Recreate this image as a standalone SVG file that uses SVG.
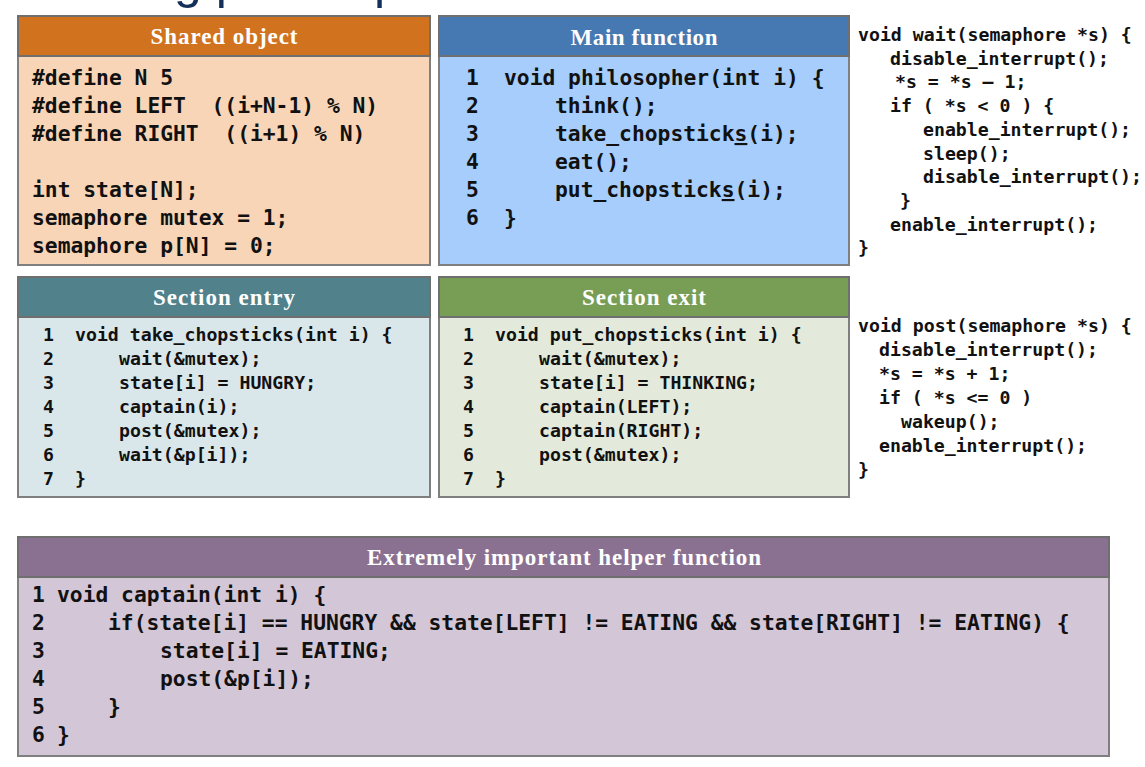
<svg xmlns="http://www.w3.org/2000/svg" width="1145" height="767" viewBox="0 0 1145 767">
<style>
.box{stroke:#7f7f7f;stroke-width:2}
.hdr{stroke:#6f6f6f;stroke-width:2}
.ttl{font-family:"Liberation Serif",serif;font-weight:bold;font-size:23px;fill:#ffffff;text-anchor:middle}
.c{font-family:"DejaVu Sans Mono","Liberation Mono",monospace;font-weight:bold;font-size:21.3px;fill:#111111}
.s{font-family:"DejaVu Sans Mono","Liberation Mono",monospace;font-weight:bold;font-size:18.2px;fill:#111111}
.u{text-decoration:underline}
</style>
<rect width="1145" height="767" fill="#ffffff"/>
<text x="60" y="-2" font-family="Liberation Sans,sans-serif" font-size="50" fill="#14305a">Dining philosophers</text>

<g id="shared-object">
<rect class="box" x="18" y="16" width="412" height="249" fill="#f8d5b7"/>
<rect class="hdr" x="18" y="16" width="412" height="40" fill="#d1721f"/>
<text class="ttl" x="224" y="44" textLength="147">Shared object</text>
<text class="c" x="32" y="85" xml:space="preserve">#define N 5</text>
<text class="c" x="32" y="113" xml:space="preserve">#define LEFT  ((i+N-1) % N)</text>
<text class="c" x="32" y="141" xml:space="preserve">#define RIGHT  ((i+1) % N)</text>
<text class="c" x="32" y="197" xml:space="preserve">int state[N];</text>
<text class="c" x="32" y="225" xml:space="preserve">semaphore mutex = 1;</text>
<text class="c" x="32" y="253" xml:space="preserve">semaphore p[N] = 0;</text>
</g>

<g id="main-function">
<rect class="box" x="439" y="16" width="410" height="249" fill="#a6cdfb"/>
<rect class="hdr" x="439" y="16" width="410" height="40" fill="#4678b1"/>
<text class="ttl" x="644" y="45" textLength="147">Main function</text>
<text class="c" x="466" y="85">1</text>
<text class="c" x="466" y="113">2</text>
<text class="c" x="466" y="141">3</text>
<text class="c" x="466" y="169">4</text>
<text class="c" x="466" y="197">5</text>
<text class="c" x="466" y="225">6</text>
<text class="c" x="504" y="85" xml:space="preserve">void philosopher(int i) {</text>
<text class="c" x="555" y="113">think();</text>
<text class="c" x="555" y="141">take_chopstick<tspan class="u">s</tspan>(i);</text>
<text class="c" x="555" y="169">eat();</text>
<text class="c" x="555" y="197">put_chopstick<tspan class="u">s</tspan>(i);</text>
<text class="c" x="504" y="225">}</text>
</g>

<g id="wait-code">
<text class="s" x="858" y="41" xml:space="preserve">void wait(semaphore *s) {</text>
<text class="s" x="890" y="64.7">disable_interrupt();</text>
<text class="s" x="895" y="88.4" xml:space="preserve">*s = *s – 1;</text>
<text class="s" x="890" y="112.1" xml:space="preserve">if ( *s &lt; 0 ) {</text>
<text class="s" x="923" y="135.8">enable_interrupt();</text>
<text class="s" x="923" y="159.5">sleep();</text>
<text class="s" x="923" y="183.2">disable_interrupt();</text>
<text class="s" x="900" y="206.9">}</text>
<text class="s" x="890" y="230.6">enable_interrupt();</text>
<text class="s" x="858" y="254.3">}</text>
</g>

<g id="section-entry">
<rect class="box" x="18" y="277" width="412" height="220" fill="#dae7ea"/>
<rect class="hdr" x="18" y="277" width="412" height="40" fill="#51818a"/>
<text class="ttl" x="224" y="305" textLength="142">Section entry</text>
<text class="s" x="43" y="341">1</text>
<text class="s" x="43" y="365">2</text>
<text class="s" x="43" y="389">3</text>
<text class="s" x="43" y="413">4</text>
<text class="s" x="43" y="437">5</text>
<text class="s" x="43" y="461">6</text>
<text class="s" x="43" y="485">7</text>
<text class="s" x="75" y="341" xml:space="preserve">void take_chopsticks(int i) {</text>
<text class="s" x="119" y="365">wait(&amp;mutex);</text>
<text class="s" x="119" y="389" xml:space="preserve">state[i] = HUNGRY;</text>
<text class="s" x="119" y="413">captain(i);</text>
<text class="s" x="119" y="437">post(&amp;mutex);</text>
<text class="s" x="119" y="461">wait(&amp;p[i]);</text>
<text class="s" x="75" y="485">}</text>
</g>

<g id="section-exit">
<rect class="box" x="439" y="277" width="410" height="220" fill="#e4eadb"/>
<rect class="hdr" x="439" y="277" width="410" height="40" fill="#789e55"/>
<text class="ttl" x="644" y="305" textLength="124">Section exit</text>
<text class="s" x="463" y="341">1</text>
<text class="s" x="463" y="365">2</text>
<text class="s" x="463" y="389">3</text>
<text class="s" x="463" y="413">4</text>
<text class="s" x="463" y="437">5</text>
<text class="s" x="463" y="461">6</text>
<text class="s" x="463" y="485">7</text>
<text class="s" x="495" y="341" xml:space="preserve">void put_chopsticks(int i) {</text>
<text class="s" x="539" y="365">wait(&amp;mutex);</text>
<text class="s" x="539" y="389" xml:space="preserve">state[i] = THINKING;</text>
<text class="s" x="539" y="413">captain(LEFT);</text>
<text class="s" x="539" y="437">captain(RIGHT);</text>
<text class="s" x="539" y="461">post(&amp;mutex);</text>
<text class="s" x="495" y="485">}</text>
</g>

<g id="post-code">
<text class="s" x="858" y="332" xml:space="preserve">void post(semaphore *s) {</text>
<text class="s" x="879" y="356">disable_interrupt();</text>
<text class="s" x="879" y="380" xml:space="preserve">*s = *s + 1;</text>
<text class="s" x="879" y="404" xml:space="preserve">if ( *s &lt;= 0 )</text>
<text class="s" x="901" y="428">wakeup();</text>
<text class="s" x="879" y="452">enable_interrupt();</text>
<text class="s" x="858" y="476">}</text>
</g>

<g id="helper-function">
<rect class="box" x="18" y="537" width="1091" height="219" fill="#d3c6d6"/>
<rect class="hdr" x="18" y="537" width="1091" height="40" fill="#8a7192"/>
<text class="ttl" x="564" y="565" textLength="394">Extremely important helper function</text>
<text class="c" x="32" y="602">1</text>
<text class="c" x="32" y="630">2</text>
<text class="c" x="32" y="658">3</text>
<text class="c" x="32" y="686">4</text>
<text class="c" x="32" y="714">5</text>
<text class="c" x="32" y="742">6</text>
<text class="c" x="57" y="602" xml:space="preserve">void captain(int i) {</text>
<text class="c" x="108" y="630" xml:space="preserve">if(state[i] == HUNGRY &amp;&amp; state[LEFT] != EATING &amp;&amp; state[RIGHT] != EATING) {</text>
<text class="c" x="160" y="658" xml:space="preserve">state[i] = EATING;</text>
<text class="c" x="160" y="686">post(&amp;p[i]);</text>
<text class="c" x="108" y="714">}</text>
<text class="c" x="57" y="742">}</text>
</g>

<g id="connectors"></g>
</svg>
